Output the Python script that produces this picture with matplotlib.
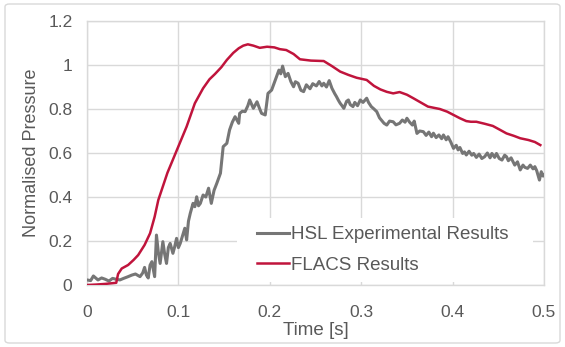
import matplotlib
matplotlib.use("Agg")
import matplotlib.pyplot as plt
from matplotlib.patches import FancyBboxPatch, Rectangle

plt.rcParams['font.family'] = ['Liberation Sans', 'DejaVu Sans']

# FLACS results (red)
flacs_t = [0.000, 0.010, 0.020, 0.032, 0.034, 0.038, 0.045, 0.051, 0.056, 0.063, 0.069,
           0.074, 0.078, 0.088, 0.100, 0.109, 0.118, 0.127, 0.134, 0.140, 0.147, 0.153,
           0.160, 0.166, 0.171, 0.176, 0.182, 0.189, 0.197, 0.205, 0.211, 0.218, 0.226,
           0.233, 0.245, 0.259, 0.268, 0.277, 0.286, 0.295, 0.306, 0.314, 0.321, 0.328,
           0.335, 0.342, 0.350, 0.357, 0.365, 0.373, 0.380, 0.386, 0.394, 0.401, 0.408,
           0.415, 0.420, 0.426, 0.435, 0.444, 0.452, 0.459, 0.467, 0.474, 0.483, 0.490,
           0.496]
flacs_p = [0.000, 0.002, 0.005, 0.010, 0.050, 0.075, 0.091, 0.114, 0.136, 0.182, 0.235,
           0.310, 0.386, 0.510, 0.630, 0.720, 0.826, 0.894, 0.935, 0.959, 0.990, 1.023,
           1.055, 1.076, 1.088, 1.094, 1.088, 1.078, 1.083, 1.080, 1.072, 1.068, 1.050,
           1.026, 1.020, 1.018, 0.995, 0.970, 0.955, 0.942, 0.932, 0.905, 0.889, 0.878,
           0.871, 0.877, 0.865, 0.849, 0.830, 0.811, 0.805, 0.800, 0.788, 0.773, 0.758,
           0.745, 0.742, 0.742, 0.733, 0.723, 0.705, 0.689, 0.678, 0.667, 0.659, 0.650,
           0.636]

# HSL experimental results (grey)
hsl_t = [0.000, 0.004, 0.007, 0.010, 0.012, 0.016, 0.020, 0.024, 0.028, 0.032, 0.036,
         0.040, 0.045, 0.049, 0.053, 0.058, 0.061, 0.063, 0.065, 0.067, 0.069, 0.071,
         0.074, 0.076, 0.078, 0.080, 0.083, 0.085, 0.087, 0.089, 0.091, 0.094, 0.096,
         0.098, 0.100, 0.102, 0.105, 0.107, 0.109, 0.111, 0.113, 0.116, 0.118, 0.120,
         0.122, 0.124, 0.127, 0.130, 0.133, 0.136, 0.139, 0.142, 0.146, 0.149, 0.153,
         0.156, 0.159, 0.162, 0.166, 0.167, 0.170, 0.173, 0.176, 0.178, 0.182, 0.186,
         0.189, 0.191, 0.195, 0.198, 0.202, 0.206, 0.210, 0.212, 0.214, 0.217, 0.220,
         0.223, 0.226, 0.228, 0.231, 0.234, 0.237, 0.240, 0.244, 0.247, 0.251, 0.254,
         0.257, 0.259, 0.262, 0.265, 0.268, 0.271, 0.273, 0.275, 0.277, 0.279, 0.281,
         0.284, 0.286, 0.288, 0.291, 0.293, 0.296, 0.299, 0.302, 0.306, 0.308, 0.311,
         0.314, 0.317, 0.320, 0.322, 0.325, 0.328, 0.331, 0.335, 0.338, 0.342, 0.345,
         0.348, 0.350, 0.353, 0.356, 0.358, 0.361, 0.364, 0.368, 0.371, 0.374, 0.377,
         0.379, 0.382, 0.385, 0.388, 0.390, 0.393, 0.395, 0.398, 0.401, 0.404, 0.406,
         0.408, 0.411, 0.413, 0.415, 0.418, 0.421, 0.423, 0.426, 0.429, 0.432, 0.435,
         0.438, 0.441, 0.443, 0.446, 0.448, 0.451, 0.454, 0.457, 0.459, 0.461, 0.464,
         0.466, 0.468, 0.471, 0.474, 0.477, 0.479, 0.482, 0.485, 0.488, 0.490, 0.492,
         0.495, 0.497, 0.499, 0.501]
hsl_p = [0.023, 0.020, 0.041, 0.030, 0.023, 0.032, 0.026, 0.018, 0.030, 0.026, 0.023,
         0.030, 0.038, 0.045, 0.050, 0.038, 0.055, 0.080, 0.045, 0.032, 0.090, 0.106,
         0.038, 0.227, 0.150, 0.098, 0.197, 0.140, 0.098, 0.170, 0.189, 0.144, 0.175,
         0.212, 0.170, 0.189, 0.230, 0.258, 0.205, 0.290, 0.326, 0.371, 0.356, 0.401,
         0.360, 0.371, 0.409, 0.400, 0.440, 0.371, 0.430, 0.462, 0.508, 0.629, 0.644,
         0.705, 0.740, 0.765, 0.735, 0.780, 0.790, 0.788, 0.815, 0.841, 0.803, 0.833,
         0.800, 0.780, 0.773, 0.871, 0.886, 0.932, 0.977, 0.960, 0.995, 0.947, 0.962,
         0.925, 0.901, 0.924, 0.917, 0.885, 0.879, 0.910, 0.892, 0.915, 0.905, 0.925,
         0.905, 0.917, 0.900, 0.929, 0.894, 0.870, 0.856, 0.840, 0.826, 0.815, 0.803,
         0.835, 0.841, 0.820, 0.811, 0.830, 0.815, 0.841, 0.830, 0.849, 0.830, 0.811,
         0.800, 0.788, 0.760, 0.750, 0.735, 0.727, 0.745, 0.742, 0.728, 0.735, 0.750,
         0.740, 0.758, 0.740, 0.727, 0.745, 0.689, 0.700, 0.697, 0.680, 0.695, 0.674,
         0.690, 0.670, 0.682, 0.665, 0.682, 0.660, 0.674, 0.650, 0.621, 0.635, 0.614,
         0.625, 0.598, 0.605, 0.591, 0.608, 0.590, 0.598, 0.580, 0.595, 0.575, 0.583,
         0.600, 0.578, 0.598, 0.580, 0.598, 0.575, 0.568, 0.590, 0.583, 0.565, 0.578,
         0.561, 0.545, 0.560, 0.523, 0.545, 0.535, 0.530, 0.545, 0.528, 0.538, 0.520,
         0.477, 0.515, 0.495, 0.505]

x_ticks = [0, 0.1, 0.2, 0.3, 0.4, 0.5]
x_labels = ["0", "0.1", "0.2", "0.3", "0.4", "0.5"]
y_ticks = [0, 0.2, 0.4, 0.6, 0.8, 1.0, 1.2]
y_labels = ["0", "0.2", "0.4", "0.6", "0.8", "1", "1.2"]

text_col = "#595959"
grid_col = "#D9D9D9"

fig = plt.figure(figsize=(5.65, 3.47), dpi=100)
fig.patch.set_facecolor("white")
border = FancyBboxPatch((5 / 565, 4 / 347), 555 / 565, 339 / 347,
                        boxstyle="round,pad=0,rounding_size=0.008",
                        transform=fig.transFigure, facecolor="none",
                        edgecolor=grid_col, linewidth=1.0, zorder=0)
fig.patches.append(border)

ax = fig.add_axes([87 / 565, (347 - 285) / 347, 457 / 565, 264 / 347])
ax.set_facecolor("none")

ax.plot(hsl_t, hsl_p, color="#767676", linewidth=2.2, label="HSL Experimental Results",
        solid_joinstyle="round", zorder=3)
ax.plot(flacs_t, flacs_p, color="#C0143C", linewidth=1.8, label="FLACS Results", zorder=4)

ax.set_xlim(0, 0.5)
ax.set_ylim(0, 1.2)
ax.set_xticks(x_ticks)
ax.set_xticklabels(x_labels)
ax.set_yticks(y_ticks)
ax.set_yticklabels(y_labels)
ax.tick_params(length=0, labelsize=12.5, colors=text_col)
ax.tick_params(axis="x", pad=14.5)
ax.tick_params(axis="y", pad=10.5)
ax.grid(True, color=grid_col, linewidth=1.0)
ax.set_axisbelow(True)
for s in ax.spines.values():
    s.set_color(grid_col)
    s.set_linewidth(1.0)

ax.set_xlabel("Time [s]", fontsize=13.5, color=text_col, labelpad=1.5)
ax.set_ylabel("Normalised Pressure", fontsize=13, color=text_col, labelpad=6)

# white legend area hiding the gridlines
ax.add_patch(Rectangle((150 / 457, 3 / 264), 296 / 457, 64 / 264, transform=ax.transAxes,
                       facecolor="white", edgecolor="none", zorder=2))

leg = ax.legend(loc="center left", bbox_to_anchor=(170 / 457, 35 / 264),
                borderaxespad=0, frameon=False, borderpad=0,
                fontsize=13.5, handlelength=1.7, handletextpad=0.12, labelspacing=0.72)
for t in leg.get_texts():
    t.set_color(text_col)
leg.set_zorder(5)

fig.savefig("out.png", dpi=100, facecolor="white")
